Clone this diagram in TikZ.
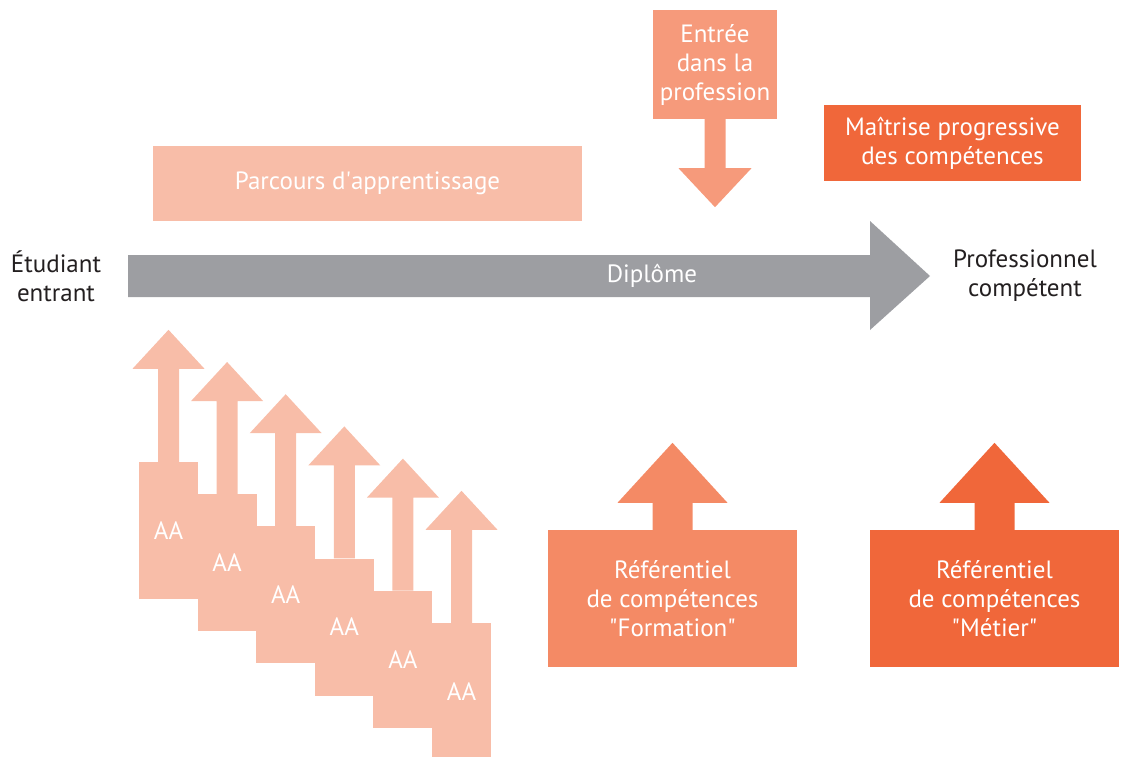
\documentclass[tikz,border=0pt]{standalone}
\usepackage{fontspec}
\setmainfont{PT Sans}
\definecolor{greybar}{HTML}{9D9EA2}
\definecolor{palesalmon}{HTML}{F8BDA8}
\definecolor{midsalmon}{HTML}{F69A7B}
\definecolor{formsalmon}{HTML}{F48A65}
\definecolor{deeporange}{HTML}{F0673A}
\definecolor{inktext}{HTML}{231F20}
\tikzset{
  txt/.style={font=\fontsize{25}{29}\selectfont, align=center},
  box/.style={txt, rectangle, inner sep=0pt, text=white},
  aabox/.style={box, fill=palesalmon, minimum width=59pt, minimum height=137pt},
  endtext/.style={txt, text=inktext}
}
\begin{document}
\begin{tikzpicture}[x=1pt, y=-1pt]
  \useasboundingbox (0, 0) rectangle (1125, 756);
  \clip (0, 0) rectangle (1125, 756);
  % ends of the course
  \node[endtext] (student) at (56, 276) {Étudiant\\entrant};
  \node[endtext] (pro) at (1025, 276) {Professionnel\\compétent};
  % main grey arrow
  \coordinate (tail) at (128, 276);
  \fill[greybar] (tail) ++(0, -21) -- ++(742, 0) -- ++(0, -34) -- ++(60, 55)
    -- ++(-60, 54) -- ++(0, -33) -- ++(-742, 0) -- cycle;
  \node[box] (diplome) at (652, 276) {Diplôme};
  % boxes above
  \node[box, fill=palesalmon, minimum width=429pt, minimum height=75pt] (parcours)
    at (367.5, 183.5) {Parcours d\textquotesingle apprentissage};
  \node[box, fill=midsalmon, minimum width=124pt, minimum height=109pt] (entree)
    at (715, 64.5) {Entrée\\dans la\\profession};
  \fill[midsalmon] (entree.south) ++(-10.5, 0) -- ++(0, 49) -- ++(-26, 0) -- ++(36.5, 39)
    -- ++(36.5, -39) -- ++(-26, 0) -- ++(0, -49) -- cycle;
  \node[box, fill=deeporange, minimum width=257pt, minimum height=76pt] (maitrise)
    at (952.5, 143) {Maîtrise progressive\\des compétences};
  % learning activities
  \foreach \i in {0, ..., 5} {
    \node[aabox] (aa\i) at ({168.5+58.6*\i}, {530.5+32.2*\i}) {AA};
    \fill[palesalmon] (aa\i.north) ++(-10.5, 0) -- ++(0, -93) -- ++(-25.5, 0) -- ++(36, -39)
      -- ++(36, 39) -- ++(-25.5, 0) -- ++(0, 93) -- cycle;
  }
  % frames of reference
  \node[box, fill=formsalmon, minimum width=249pt, minimum height=137pt] (formation)
    at (672.5, 598.5) {Référentiel\\de compétences\\\textquotedbl Formation\textquotedbl};
  \fill[formsalmon] (formation.north) ++(-20, 0) -- ++(0, -27) -- ++(-35, 0) -- ++(55, -60)
    -- ++(55, 60) -- ++(-35, 0) -- ++(0, 27) -- cycle;
  \node[box, fill=deeporange, minimum width=249pt, minimum height=137pt] (metier)
    at (994.5, 598.5) {Référentiel\\de compétences\\\textquotedbl Métier\textquotedbl};
  \fill[deeporange] (metier.north) ++(-20, 0) -- ++(0, -27) -- ++(-35, 0) -- ++(55, -60)
    -- ++(55, 60) -- ++(-35, 0) -- ++(0, 27) -- cycle;
\end{tikzpicture}
\end{document}
